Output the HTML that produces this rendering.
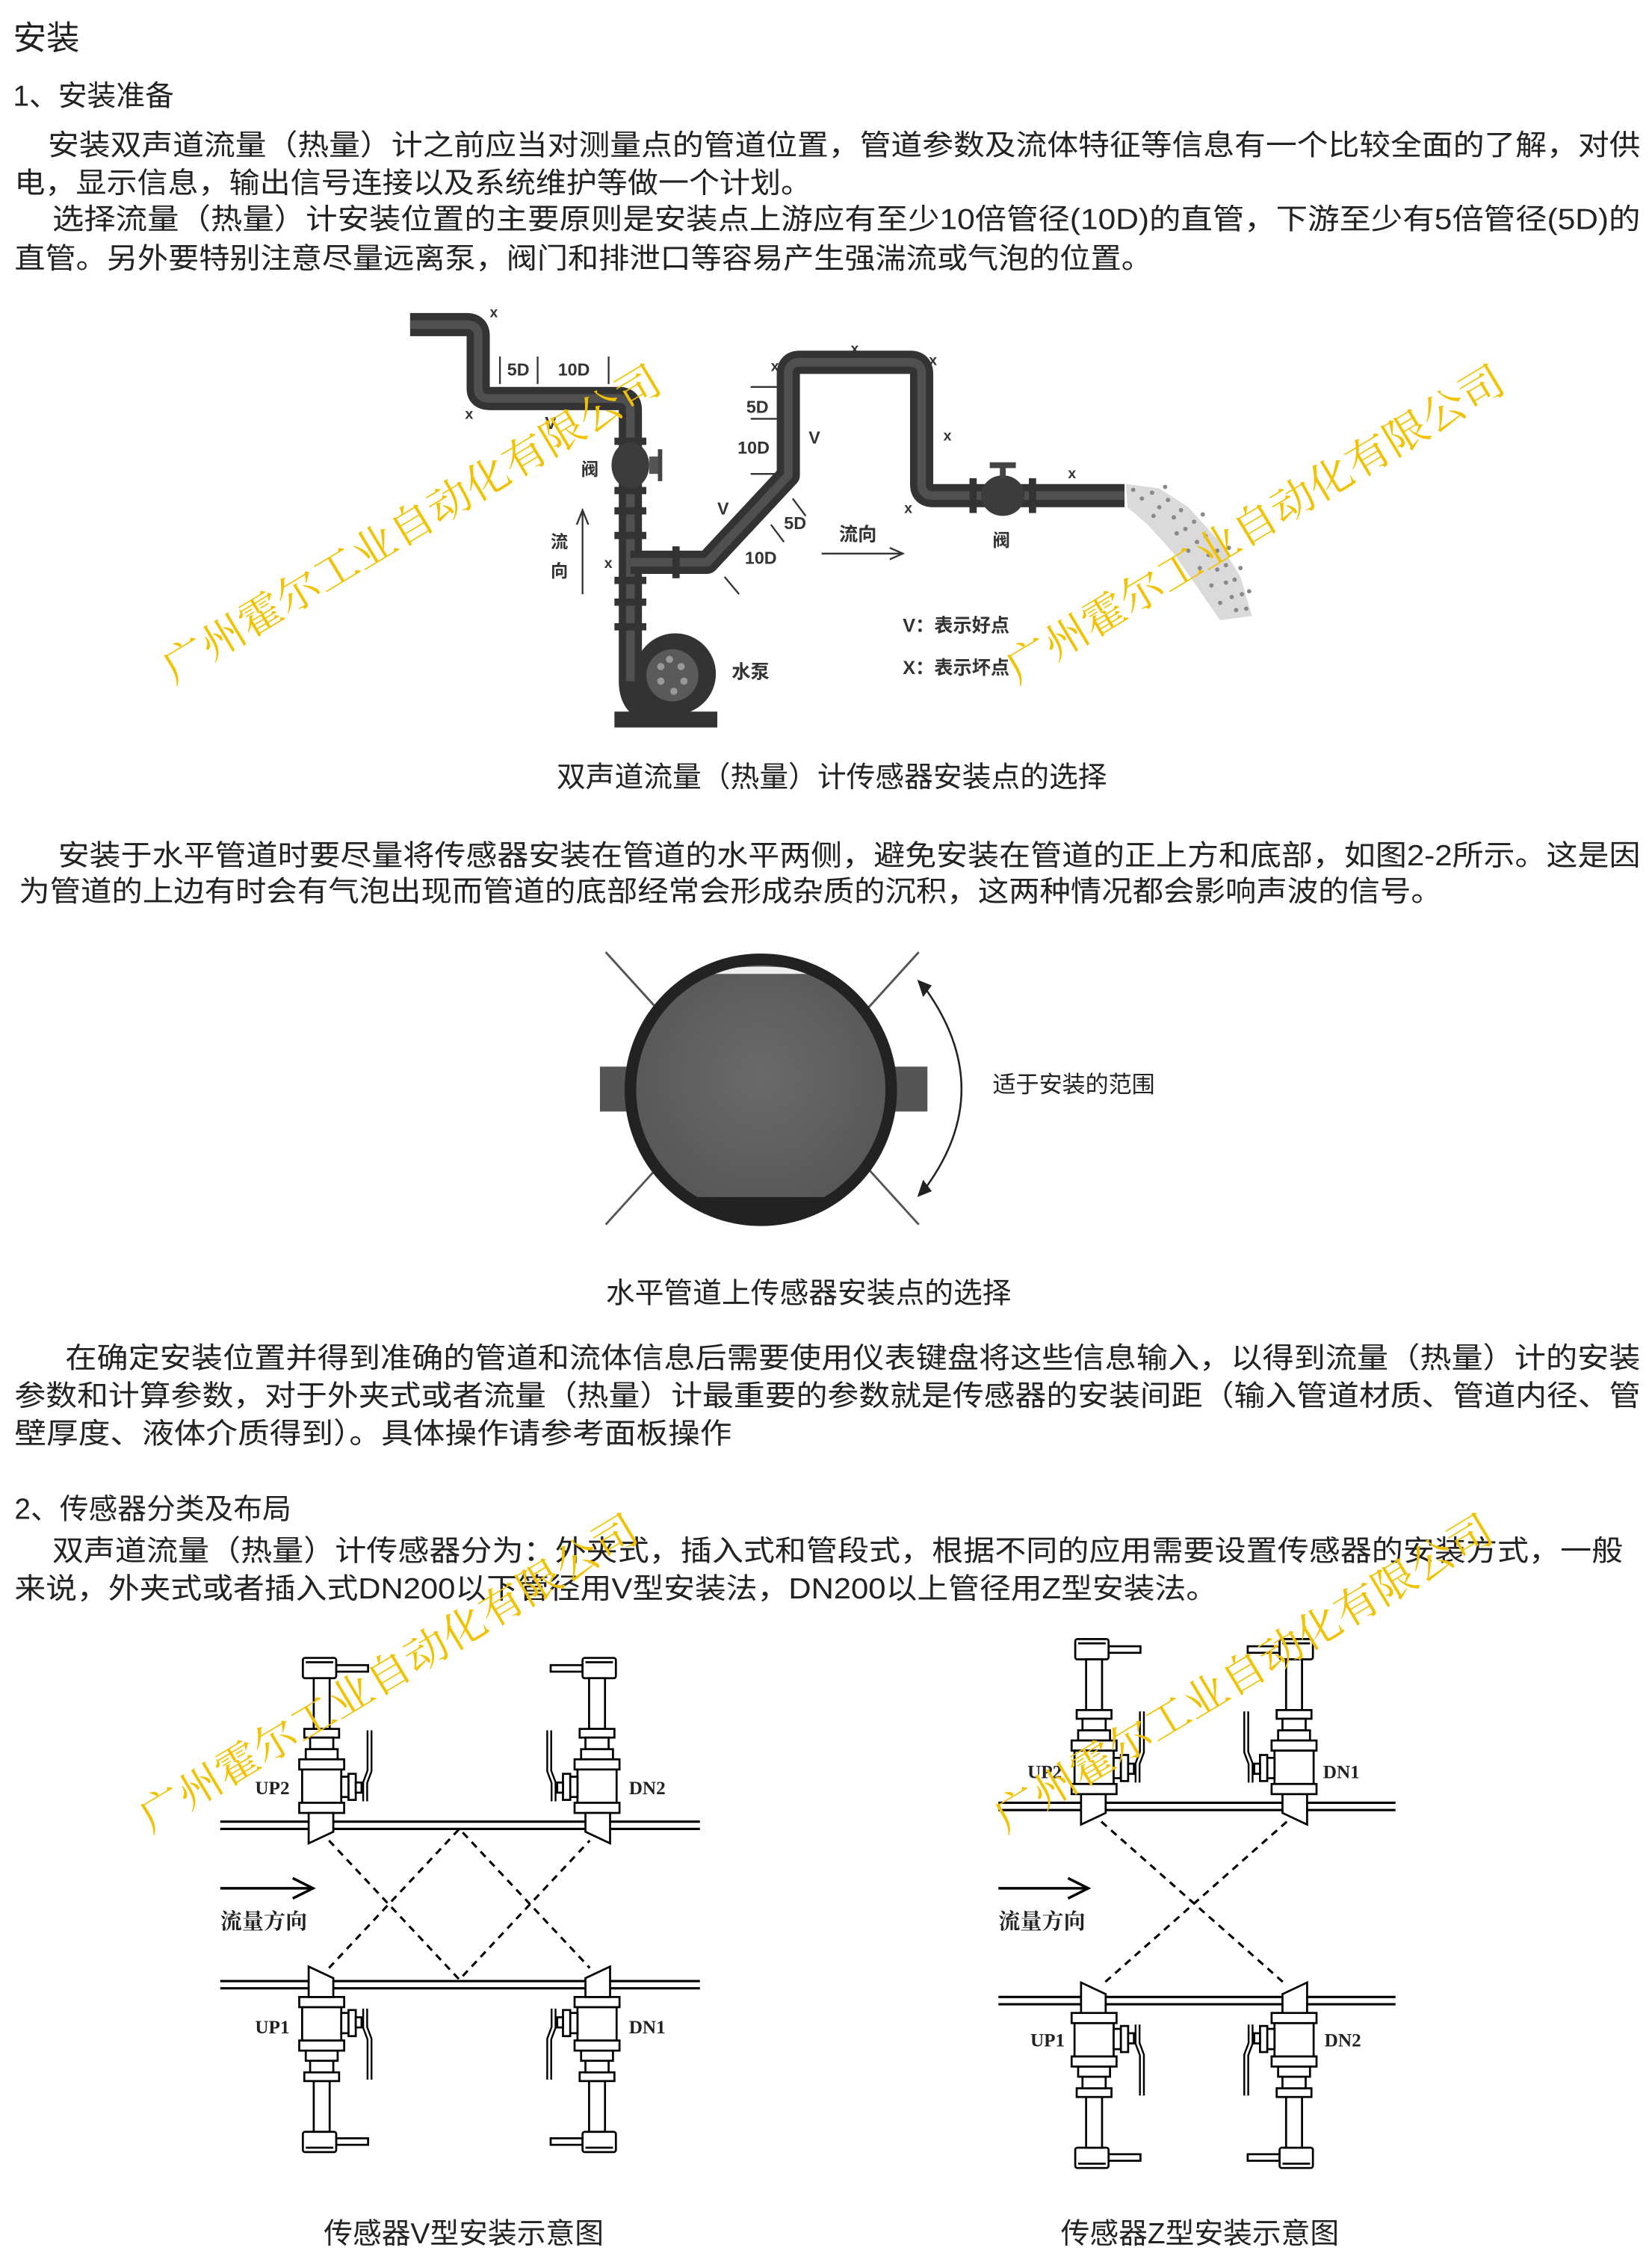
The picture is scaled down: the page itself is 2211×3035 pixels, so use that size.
<!DOCTYPE html>
<html><head><meta charset="utf-8">
<style>
html,body{margin:0;padding:0;background:#fff;}
svg{display:block;}
.t{font-family:"Liberation Sans","Noto Sans CJK SC",sans-serif;fill:#222;}
.b{font-family:"Liberation Sans","Noto Sans CJK SC",sans-serif;font-weight:bold;fill:#333;}
.s{font-family:"Liberation Serif","Noto Serif CJK SC",serif;font-weight:bold;fill:#222;}
.w{font-family:"Liberation Serif","Noto Serif CJK SC",serif;fill:#f2c200;}
</style></head><body>
<svg width="2211" height="3035" viewBox="0 0 1140 1565" preserveAspectRatio="none" xmlns="http://www.w3.org/2000/svg">
<defs>
<radialGradient id="cg" cx="0.5" cy="0.45" r="0.6"><stop offset="0" stop-color="#6a6a6a"/><stop offset="1" stop-color="#555"/></radialGradient>
<g id="sen" stroke="#000" stroke-width="1.4" fill="#fff">
 <rect x="10" y="-108" width="22" height="4.5"/>
 <rect x="-13" y="-113" width="23" height="14" rx="1.5"/>
 <line x1="-11" y1="-110" x2="8" y2="-110"/>
 <rect x="-5.5" y="-99" width="11" height="35"/>
 <rect x="-12" y="-64" width="24" height="6"/>
 <rect x="-8" y="-58" width="16" height="8"/>
 <rect x="-11" y="-50" width="22" height="7"/>
 <rect x="-15.5" y="-43" width="31" height="7"/>
 <rect x="-13.5" y="-36" width="27" height="23"/>
 <rect x="-15.5" y="-13" width="31" height="7"/>
 <rect x="13.5" y="-31" width="5" height="14"/>
 <rect x="18.5" y="-33" width="5" height="18"/>
 <rect x="23.5" y="-27" width="4" height="7"/>
 <path d="M30,-14 L30,-27 L33,-35 L33,-63" fill="none" stroke="#000" stroke-width="4"/>
 <path d="M30,-14 L30,-27 L33,-35 L33,-63" fill="none" stroke="#fff" stroke-width="1.5"/>
 <polygon points="-9,-6 8,-6 8,7 -9,15"/>
</g>
</defs>
<rect width="1140" height="1565" fill="#fff"/>

<text class="t" x="9" y="34" font-size="23">安装</text>
<text class="t" x="9" y="73" font-size="20">1、安装准备</text>
<text class="t" x="33" y="107" font-size="20" textLength="1099" lengthAdjust="spacingAndGlyphs">安装双声道流量（热量）计之前应当对测量点的管道位置，管道参数及流体特征等信息有一个比较全面的了解，对供</text>
<text class="t" x="10" y="133" font-size="20" textLength="550" lengthAdjust="spacingAndGlyphs">电，显示信息，输出信号连接以及系统维护等做一个计划。</text>
<text class="t" x="36" y="158" font-size="20" textLength="1096" lengthAdjust="spacingAndGlyphs">选择流量（热量）计安装位置的主要原则是安装点上游应有至少10倍管径(10D)的直管，下游至少有5倍管径(5D)的</text>
<text class="t" x="10" y="185" font-size="20" textLength="785" lengthAdjust="spacingAndGlyphs">直管。另外要特别注意尽量远离泵，阀门和排泄口等容易产生强湍流或气泡的位置。</text>

<g fill="none" stroke-linejoin="round">
 <path d="M283,224 L322,224 Q330,224 330,232 L330,268 Q330,275 338,275 L427,275 Q435,275 435,283 L435,470 Q435,490 455,492 L470,492" stroke="#333" stroke-width="16"/>
 <path d="M283,224 L322,224 Q330,224 330,232 L330,268 Q330,275 338,275 L427,275 Q435,275 435,283 L435,470" stroke="#505050" stroke-width="6"/>
 <path d="M435,388 L488,388 L544,328 L544,258 Q544,250 552,250 L628,250 Q636,250 636,258 L636,334 Q636,342 644,342 L776,342" stroke="#333" stroke-width="16"/>
 <path d="M435,388 L488,388 L544,328 L544,258 Q544,250 552,250 L628,250 Q636,250 636,258 L636,334 Q636,342 644,342 L776,342" stroke="#505050" stroke-width="6"/>
</g>
<g fill="#333">
 <rect x="424" y="302" width="22" height="5"/><rect x="424" y="336" width="22" height="5"/>
 <rect x="424" y="350" width="22" height="5"/><rect x="424" y="367" width="22" height="5"/>
 <rect x="424" y="398" width="22" height="5"/><rect x="424" y="413" width="22" height="5"/>
 <rect x="424" y="430" width="22" height="5"/>
 <rect x="464" y="377" width="5" height="22"/>
 <rect x="669" y="330" width="5" height="24"/><rect x="710" y="330" width="5" height="24"/>
</g>
<ellipse cx="435" cy="321" rx="13" ry="16" fill="#3c3c3c"/>
<rect x="448" y="315" width="6" height="12" fill="#555"/><rect x="454" y="310" width="3" height="22" fill="#444"/>
<ellipse cx="692" cy="342" rx="15" ry="14" fill="#3c3c3c"/>
<rect x="690" y="322" width="4" height="8" fill="#444"/><rect x="683" y="319" width="18" height="4" fill="#444"/>
<circle cx="466" cy="465" r="28" fill="#333"/>
<circle cx="464" cy="466" r="18" fill="#5a5a5a"/>
<g fill="#999"><circle cx="462" cy="455" r="2.5"/><circle cx="470" cy="460" r="2.5"/><circle cx="472" cy="470" r="2.5"/><circle cx="465" cy="477" r="2.5"/><circle cx="456" cy="470" r="2.5"/><circle cx="456" cy="460" r="2.5"/></g>
<polygon points="424,491 495,491 495,502 424,502" fill="#333"/>
<polygon points="777,334 800,337 820,350 840,372 856,398 864,425 842,428 826,405 810,382 792,362 778,350" fill="#bbb" opacity="0.55"/>
<g fill="#888">
 <circle cx="782" cy="338" r="1.5"/><circle cx="788" cy="344" r="1.5"/><circle cx="795" cy="340" r="1.5"/><circle cx="800" cy="350" r="1.5"/><circle cx="806" cy="345" r="1.5"/><circle cx="810" cy="357" r="1.5"/><circle cx="815" cy="352" r="1.5"/><circle cx="818" cy="365" r="1.5"/><circle cx="824" cy="360" r="1.5"/><circle cx="826" cy="374" r="1.5"/><circle cx="832" cy="370" r="1.5"/><circle cx="834" cy="383" r="1.5"/><circle cx="840" cy="380" r="1.5"/><circle cx="840" cy="393" r="1.5"/><circle cx="846" cy="390" r="1.5"/><circle cx="846" cy="402" r="1.5"/><circle cx="852" cy="400" r="1.5"/><circle cx="850" cy="412" r="1.5"/><circle cx="857" cy="410" r="1.5"/><circle cx="853" cy="421" r="1.5"/><circle cx="860" cy="420" r="1.5"/><circle cx="812" cy="368" r="1.5"/><circle cx="820" cy="380" r="1.5"/><circle cx="828" cy="392" r="1.5"/><circle cx="836" cy="404" r="1.5"/><circle cx="842" cy="416" r="1.5"/><circle cx="796" cy="356" r="1.5"/><circle cx="804" cy="336" r="1.5"/><circle cx="830" cy="355" r="1.5"/><circle cx="848" cy="378" r="1.5"/><circle cx="856" cy="392" r="1.5"/><circle cx="862" cy="408" r="1.5"/>
</g>
<g stroke="#333" stroke-width="1.2">
 <line x1="345" y1="246" x2="345" y2="265"/><line x1="371" y1="246" x2="371" y2="265"/><line x1="420" y1="246" x2="420" y2="265"/>
 <line x1="518" y1="267" x2="536" y2="267"/><line x1="518" y1="289" x2="536" y2="289"/><line x1="518" y1="327" x2="536" y2="327"/>
 <line x1="547" y1="344" x2="556" y2="356"/><line x1="532" y1="362" x2="541" y2="374"/><line x1="500" y1="398" x2="510" y2="410"/>
 <line x1="402" y1="410" x2="402" y2="354"/>
 <line x1="567" y1="382" x2="622" y2="382"/>
</g>
<path d="M398,362 L402,352 L406,362" fill="none" stroke="#333" stroke-width="1.2"/>
<path d="M614,378 L623,382 L614,386" fill="none" stroke="#333" stroke-width="1.2"/>
<g class="b" font-size="10">
 <text x="338" y="219">x</text><text x="321" y="289">x</text><text x="532" y="256">x</text><text x="587" y="244">x</text><text x="641" y="252">x</text><text x="651" y="304">x</text><text x="624" y="354">x</text><text x="737" y="330">x</text><text x="417" y="392">x</text>
</g>
<g class="b" font-size="12">
 <text x="350" y="259">5D</text><text x="385" y="259">10D</text>
 <text x="376" y="296">V</text><text x="558" y="306">V</text><text x="495" y="355">V</text>
 <text x="515" y="285">5D</text><text x="509" y="313">10D</text>
 <text x="541" y="365">5D</text><text x="514" y="389">10D</text>
 <text x="401" y="328">阀</text><text x="685" y="377">阀</text>
 <text x="380" y="378">流</text><text x="380" y="398">向</text>
 <text x="579" y="373" font-size="13">流向</text>
 <text x="505" y="468" font-size="13">水泵</text>
 <text x="623" y="436" font-size="13">V：表示好点</text>
 <text x="623" y="465" font-size="13">X：表示坏点</text>
</g>
<text class="t" x="574" y="543" font-size="20" text-anchor="middle">双声道流量（热量）计传感器安装点的选择</text>

<text class="t" x="40" y="597" font-size="20" textLength="1092" lengthAdjust="spacingAndGlyphs">安装于水平管道时要尽量将传感器安装在管道的水平两侧，避免安装在管道的正上方和底部，如图2-2所示。这是因</text>
<text class="t" x="13" y="622" font-size="20" textLength="982" lengthAdjust="spacingAndGlyphs">为管道的上边有时会有气泡出现而管道的底部经常会形成杂质的沉积，这两种情况都会影响声波的信号。</text>

<g stroke="#555" stroke-width="1.5">
 <line x1="418" y1="657" x2="457" y2="700"/><line x1="634" y1="657" x2="595" y2="700"/>
 <line x1="418" y1="845" x2="457" y2="802"/><line x1="634" y1="845" x2="595" y2="802"/>
</g>
<rect x="414" y="736" width="24" height="31" fill="#555"/>
<rect x="614" y="736" width="26" height="31" fill="#555"/>
<circle cx="525" cy="752" r="90" fill="url(#cg)"/>
<path d="M478,672 Q525,662 572,672 Z" fill="#eee"/>
<path d="M468,826 L582,826 Q555,842 525,843 Q495,842 468,826 Z" fill="#222"/>
<circle cx="525" cy="752" r="90" fill="none" stroke="#222" stroke-width="8"/>
<path d="M637,680 Q690,752 637,822" fill="none" stroke="#222" stroke-width="1.3"/>
<path d="M633,676 L643,680 L637,688 Z" fill="#222"/>
<path d="M633,826 L643,822 L637,814 Z" fill="#222"/>
<text class="t" x="685" y="754" font-size="16">适于安装的范围</text>
<text class="t" x="558" y="899" font-size="20" text-anchor="middle">水平管道上传感器安装点的选择</text>

<text class="t" x="45" y="944" font-size="20" textLength="1087" lengthAdjust="spacingAndGlyphs">在确定安装位置并得到准确的管道和流体信息后需要使用仪表键盘将这些信息输入，以得到流量（热量）计的安装</text>
<text class="t" x="10" y="970" font-size="20" textLength="1122" lengthAdjust="spacingAndGlyphs">参数和计算参数，对于外夹式或者流量（热量）计最重要的参数就是传感器的安装间距（输入管道材质、管道内径、管</text>
<text class="t" x="10" y="996" font-size="20" textLength="495" lengthAdjust="spacingAndGlyphs">壁厚度、液体介质得到）。具体操作请参考面板操作</text>
<text class="t" x="10" y="1048" font-size="20">2、传感器分类及布局</text>
<text class="t" x="36" y="1077" font-size="20" textLength="1084" lengthAdjust="spacingAndGlyphs">双声道流量（热量）计传感器分为：外夹式，插入式和管段式，根据不同的应用需要设置传感器的安装方式，一般</text>
<text class="t" x="10" y="1103" font-size="20" textLength="830" lengthAdjust="spacingAndGlyphs">来说，外夹式或者插入式DN200以下管径用V型安装法，DN200以上管径用Z型安装法。</text>

<g stroke="#000" stroke-width="1.6">
 <line x1="152" y1="1257" x2="483" y2="1257"/><line x1="152" y1="1262" x2="483" y2="1262"/>
 <line x1="152" y1="1367" x2="483" y2="1367"/><line x1="152" y1="1372" x2="483" y2="1372"/>
</g>
<g stroke="#000" stroke-width="1.6" stroke-dasharray="5,4" fill="none">
 <path d="M227,1270 L317,1366 L407,1270"/>
 <path d="M227,1358 L317,1262 L407,1358"/>
</g>
<use href="#sen" transform="translate(222,1257)"/>
<use href="#sen" transform="translate(412,1257) scale(-1,1)"/>
<use href="#sen" transform="translate(222,1372) scale(1,-1)"/>
<use href="#sen" transform="translate(412,1372) scale(-1,-1)"/>
<line x1="152" y1="1303" x2="215" y2="1303" stroke="#000" stroke-width="1.8"/>
<path d="M202,1296 L216,1303 L202,1310" fill="none" stroke="#000" stroke-width="1.8"/>
<g class="s" font-size="13">
 <text x="176" y="1238">UP2</text><text x="434" y="1238">DN2</text>
 <text x="176" y="1403">UP1</text><text x="434" y="1403">DN1</text>
</g>
<text class="s" x="152" y="1331" font-size="15" fill="#444">流量方向</text>

<g stroke="#000" stroke-width="1.6">
 <line x1="689" y1="1244" x2="963" y2="1244"/><line x1="689" y1="1249" x2="963" y2="1249"/>
 <line x1="689" y1="1378" x2="963" y2="1378"/><line x1="689" y1="1383" x2="963" y2="1383"/>
</g>
<g stroke="#000" stroke-width="1.6" stroke-dasharray="5,4" fill="none">
 <path d="M760,1257 L888,1370"/><path d="M888,1257 L760,1370"/>
</g>
<use href="#sen" transform="translate(755,1244)"/>
<use href="#sen" transform="translate(893,1244) scale(-1,1)"/>
<use href="#sen" transform="translate(755,1383) scale(1,-1)"/>
<use href="#sen" transform="translate(893,1383) scale(-1,-1)"/>
<line x1="689" y1="1303" x2="750" y2="1303" stroke="#000" stroke-width="1.8"/>
<path d="M737,1296 L751,1303 L737,1310" fill="none" stroke="#000" stroke-width="1.8"/>
<g class="s" font-size="13">
 <text x="709" y="1227">UP2</text><text x="913" y="1227">DN1</text>
 <text x="711" y="1412">UP1</text><text x="914" y="1412">DN2</text>
</g>
<text class="s" x="689" y="1331" font-size="15" fill="#444">流量方向</text>

<text class="t" x="320" y="1548" font-size="20" text-anchor="middle">传感器V型安装示意图</text>
<text class="t" x="828" y="1548" font-size="20" text-anchor="middle">传感器Z型安装示意图</text>

<g class="w" font-size="29">
 <text transform="translate(120,472) rotate(-31)" textLength="395" lengthAdjust="spacingAndGlyphs">广州霍尔工业自动化有限公司</text>
 <text transform="translate(702,472) rotate(-31)" textLength="395" lengthAdjust="spacingAndGlyphs">广州霍尔工业自动化有限公司</text>
 <text transform="translate(104,1265) rotate(-31)" textLength="395" lengthAdjust="spacingAndGlyphs">广州霍尔工业自动化有限公司</text>
 <text transform="translate(694,1265) rotate(-31)" textLength="395" lengthAdjust="spacingAndGlyphs">广州霍尔工业自动化有限公司</text>
</g>
</svg>
</body></html>
